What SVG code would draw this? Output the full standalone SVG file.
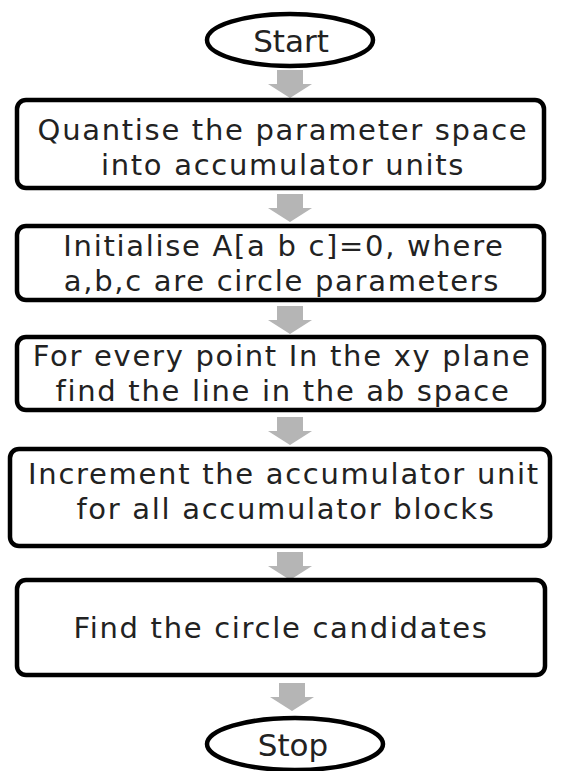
<svg xmlns="http://www.w3.org/2000/svg" width="564" height="771" viewBox="0 0 564 771">
<style>
.box{fill:#fff;stroke:#000;stroke-width:4.5}
.t{font-family:"DejaVu Sans",sans-serif;font-size:29px;letter-spacing:1.7px;fill:#222;text-anchor:middle}
.e{font-family:"DejaVu Sans",sans-serif;font-size:31px;fill:#222;text-anchor:middle}
.arr{fill:#b5b5b5}
</style>
<defs>
<path id="a" d="M-13,0 H13 V14 H22 L0,28 L-22,14 H-13 Z"/>
</defs>
<rect width="564" height="771" fill="#fff"/>
<g id="connectors">
<use href="#a" class="arr" x="290" y="70"/>
<use href="#a" class="arr" x="290" y="194"/>
<use href="#a" class="arr" x="290" y="306"/>
<use href="#a" class="arr" x="290" y="417"/>
<use href="#a" class="arr" x="290" y="552"/>
<use href="#a" class="arr" x="292" y="683"/>
</g>
<g id="start">
<ellipse class="box" cx="290" cy="40" rx="83" ry="26"/>
<text class="e" x="291" y="52">Start</text>
</g>
<g id="quantise">
<rect class="box" x="17" y="100" width="527" height="88" rx="9"/>
<text class="t" x="283" y="140">Quantise the parameter space</text>
<text class="t" x="283" y="175">into accumulator units</text>
</g>
<g id="initialise">
<rect class="box" x="17" y="226" width="527" height="74" rx="9"/>
<text class="t" x="284" y="256">Initialise A[a b c]=0, where</text>
<text class="t" x="282" y="291">a,b,c are circle parameters</text>
</g>
<g id="forevery">
<rect class="box" x="17" y="337" width="527" height="73" rx="9"/>
<text class="t" x="282" y="366">For every point In the xy plane</text>
<text class="t" x="283" y="401">find the line in the ab space</text>
</g>
<g id="increment">
<rect class="box" x="10" y="449" width="540" height="97" rx="9"/>
<text class="t" x="284" y="484">Increment the accumulator unit</text>
<text class="t" x="286" y="519">for all accumulator blocks</text>
</g>
<g id="find">
<rect class="box" x="17" y="580" width="528" height="95" rx="9"/>
<text class="t" x="281" y="638">Find the circle candidates</text>
</g>
<g id="stop">
<ellipse class="box" cx="295" cy="744" rx="88" ry="26"/>
<text class="e" x="293" y="756">Stop</text>
</g>
</svg>
